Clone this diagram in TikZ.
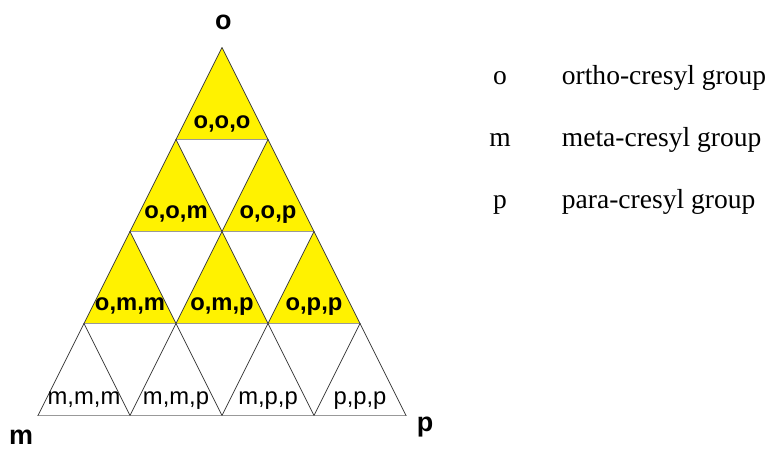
\documentclass[tikz,border=0pt]{standalone}
\usepackage{fontspec}
\setmainfont{Liberation Serif}
\setsansfont{Liberation Sans}
\tikzset{
  edge/.style={draw=black!75,line width=0.7pt},
  base/.style={draw=black!40,line width=1.4pt},
  lbl/.style={font=\sffamily\bfseries\fontsize{20.3}{22}\selectfont,anchor=base,inner sep=0pt},
  lblb/.style={font=\sffamily\fontsize{20.3}{22}\selectfont,anchor=base,inner sep=0pt},
  corner/.style={font=\sffamily\bfseries\fontsize{23}{25}\selectfont,anchor=base,inner sep=0pt},
  key/.style={font=\fontsize{23.5}{25}\selectfont,anchor=base,inner sep=0pt}
}
\begin{document}
\begin{tikzpicture}[line cap=round,line join=round]
  \useasboundingbox (0,0) rectangle (23.31,13.47);
  \coordinate (O) at (6.66,12.045);
  \coordinate (M) at (1.14,1.005);
  \coordinate (P) at (12.18,1.005);
  % yellow cells, top three rows
  \foreach \r in {0,1,2}
    \foreach \k in {0,...,\r}
      \fill[yellow] ([shift={({-1.38*\r+2.76*\k},{-2.76*\r})}]O)
        -- ++(-1.38,-2.76) -- ++(2.76,0) -- cycle;
  % grid
  \foreach \r in {0,1,2,3}
    \foreach \k in {0,...,\r} {
      \draw[base] ([shift={({-1.38*\r+2.76*\k-1.38},{-2.76*\r-2.76})}]O) -- ++(2.76,0);
      \draw[edge] ([shift={({-1.38*\r+2.76*\k-1.38},{-2.76*\r-2.76})}]O)
        -- ++(1.38,2.76) -- ++(1.38,-2.76);
    }
  \node[lbl] (ooo) at (6.66,9.6) {o,o,o};
  \node[lbl] (oom) at (5.28,6.915) {o,o,m};
  \node[lbl] (oop) at (8.04,6.915) {o,o,p};
  \node[lbl] (omm) at (3.90,4.155) {o,m,m};
  \node[lbl] (omp) at (6.66,4.155) {o,m,p};
  \node[lbl] (opp) at (9.42,4.155) {o,p,p};
  \node[lblb] (mmm) at (2.52,1.325) {m,m,m};
  \node[lblb] (mmp) at (5.28,1.325) {m,m,p};
  \node[lblb] (mpp) at (8.04,1.325) {m,p,p};
  \node[lblb] (ppp) at (10.80,1.325) {p,p,p};
  \node[corner] (o) at ([shift={(0.04,0.525)}]O) {o};
  \node[corner] (m) at ([shift={(-0.51,-0.87)}]M) {m};
  \node[corner] (p) at ([shift={(0.57,-0.465)}]P) {p};
  \node[key] (ko) at (15.0,10.92) {o};
  \node[key] (km) at (15.0,9.06) {m};
  \node[key] (kp) at (15.0,7.20) {p};
  \node[key,anchor=base west] at (16.85,10.92) {ortho-cresyl group};
  \node[key,anchor=base west] at (16.85,9.06) {meta-cresyl group};
  \node[key,anchor=base west] at (16.85,7.20) {para-cresyl group};
\end{tikzpicture}
\end{document}
